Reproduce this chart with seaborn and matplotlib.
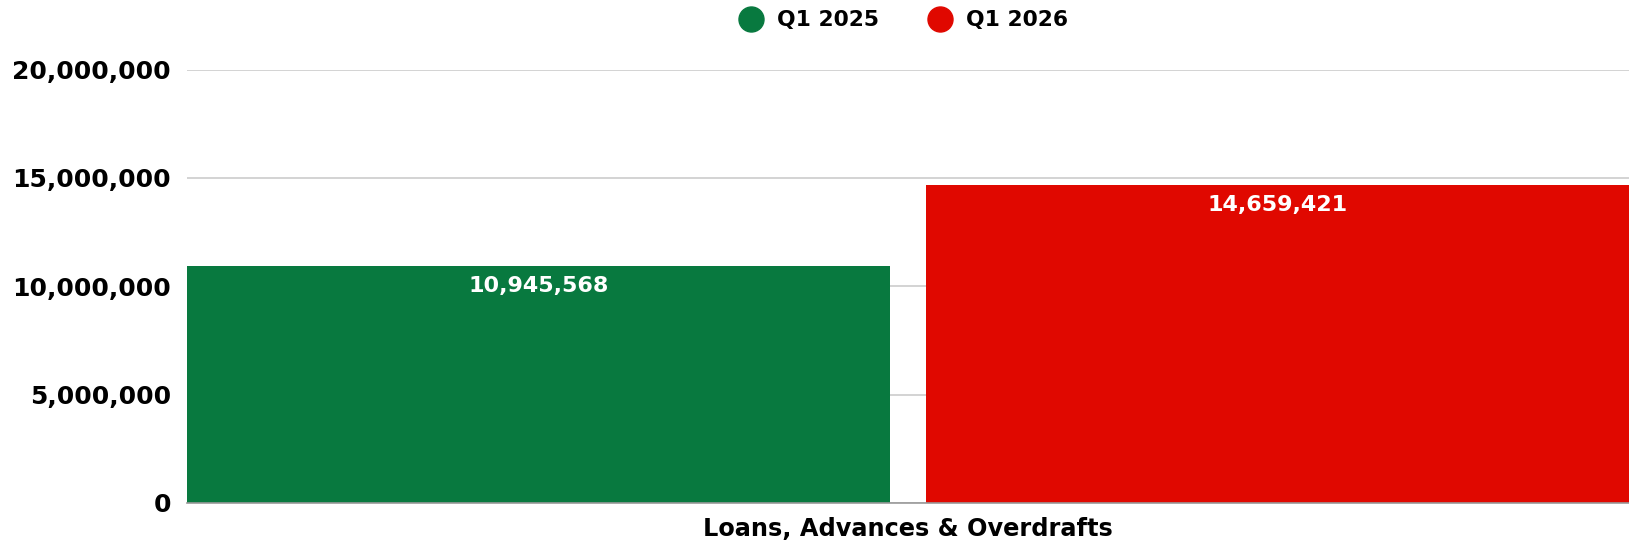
import matplotlib
matplotlib.use("Agg")
import matplotlib.pyplot as plt
from matplotlib.lines import Line2D
from matplotlib.ticker import FuncFormatter
import seaborn as sns
import pandas as pd

categories = ["Loans, Advances & Overdrafts"]
periods = ["Q1 2025", "Q1 2026"]
values_q1_2025 = [10945568]
values_q1_2026 = [14659421]
colors = ["#08793F", "#E00800"]
yticks = [0, 5000000, 10000000, 15000000, 20000000]

rows = []
for i, c in enumerate(categories):
    rows.append({"category": c, "period": periods[0], "value": values_q1_2025[i]})
    rows.append({"category": c, "period": periods[1], "value": values_q1_2026[i]})
df = pd.DataFrame(rows)

sns.set_theme(style="white")
plt.rcParams["font.family"] = ["DejaVu Sans"]
plt.rcParams["text.color"] = "#000000"

fig = plt.figure(figsize=(16.29, 5.47), dpi=100)
ax = fig.add_axes([187/1629, 44.2/547, 1 - 187/1629, 433.2/547])

sns.barplot(data=df, x="category", y="value", hue="period", palette=colors,
            width=1.0, gap=0.05, ax=ax, legend=False, saturation=1, edgecolor="none")

ax.set_xlim(-0.4875, 0.4875)
ax.set_ylim(0, 20000000)
ax.set_yticks(yticks)
ax.yaxis.set_major_formatter(FuncFormatter(lambda v, p: f"{int(v):,}"))
ax.grid(axis="y", color="#cccccc", linewidth=1.2, zorder=0)
ax.set_axisbelow(True)
for s in ["top", "right", "left"]:
    ax.spines[s].set_visible(False)
ax.spines["bottom"].set_color("#999999")
ax.spines["bottom"].set_linewidth(1.2)
ax.tick_params(axis="y", length=0, pad=11.5, labelsize=18)
ax.tick_params(axis="x", length=0, pad=10.5, labelsize=17.3)
for lab in ax.get_yticklabels() + ax.get_xticklabels():
    lab.set_fontweight("bold")
    lab.set_color("#000000")
ax.set_xlabel("")
ax.set_ylabel("")

for cont in ax.containers:
    for bar in cont:
        h = bar.get_height()
        ax.annotate(f"{int(round(h)):,}", (bar.get_x() + bar.get_width() / 2, h),
                    xytext=(0, -14.5), textcoords="offset points",
                    ha="center", va="center", color="white",
                    fontsize=16, fontweight="bold")

handles = [Line2D([0], [0], marker="o", linestyle="none", markersize=18,
                  markerfacecolor=c, markeredgecolor=c) for c in colors]
leg = fig.legend(handles, periods, loc="center", bbox_to_anchor=(0.5515, 0.963),
                 ncol=2, frameon=False, handletextpad=0.2, columnspacing=1.8,
                 prop={"size": 15.7, "weight": "bold"})
for t in leg.get_texts():
    t.set_color("#000000")

fig.savefig("out.png", dpi=100)
